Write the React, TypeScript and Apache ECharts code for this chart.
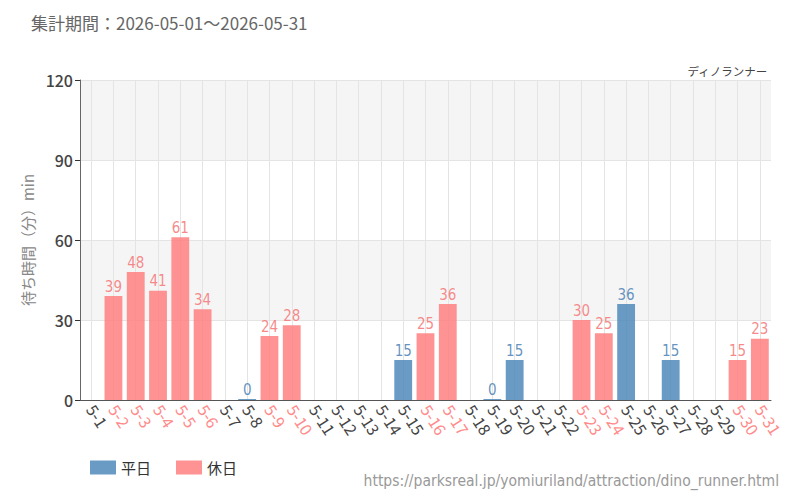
import React, { useEffect, useRef } from "react";
import * as echarts from "echarts";

// Wait-time samples for May 2026 (minutes); null = no record that day
const categories = [
  "5-1", "5-2", "5-3", "5-4", "5-5", "5-6", "5-7", "5-8", "5-9", "5-10",
  "5-11", "5-12", "5-13", "5-14", "5-15", "5-16", "5-17", "5-18", "5-19", "5-20",
  "5-21", "5-22", "5-23", "5-24", "5-25", "5-26", "5-27", "5-28", "5-29", "5-30", "5-31",
];

const weekdayValues: (number | null)[] = [
  null, null, null, null, null, null, null, 0, null, null,
  null, null, null, null, 15, null, null, null, 0, 15,
  null, null, null, null, 36, null, 15, null, null, null, null,
];

const holidayValues: (number | null)[] = [
  null, 39, 48, 41, 61, 34, null, null, 24, 28,
  null, null, null, null, null, 25, 36, null, null, null,
  null, null, 30, 25, null, null, null, null, null, 15, 23,
];

const yTicks = { min: 0, max: 120, interval: 30 };

const titleText = "集計期間：2026-05-01～2026-05-31";
const attractionName = "ディノランナー";
const sourceUrl = "https://parksreal.jp/yomiuriland/attraction/dino_runner.html";
const yAxisName = "待ち時間（分）min";
const seriesNames = ["平日", "休日"];

const BLUE = "#4f89bb";
const PINK = "#ff8080";
const BLUE_LABEL = "#4a80b4";
const PINK_LABEL = "#f57575";
const NARROW = '"DejaVu Sans Condensed", "Roboto Condensed", "Liberation Sans Narrow", "Noto Sans", sans-serif';
const BASE = '"Noto Sans CJK JP", "Noto Sans", sans-serif';

export default function App() {
  const ref = useRef<HTMLDivElement>(null);

  useEffect(() => {
    if (!ref.current) return;
    const chart = echarts.init(ref.current, undefined, { renderer: "svg" });

    const barLabel = (color: string) => ({
      show: true,
      position: "top" as const,
      distance: 2,
      color,
      fontFamily: NARROW,
      fontSize: 15,
    });

    chart.setOption({
      animation: false,
      textStyle: { fontFamily: BASE },
      title: [
        {
          text: titleText,
          left: 26,
          top: 9,
          textStyle: { fontSize: 17, fontWeight: "normal", color: "#666" },
        },
        {
          text: attractionName,
          right: 27,
          top: 60,
          textStyle: { fontSize: 11.5, fontWeight: "normal", color: "#444" },
        },
      ],
      graphic: [
        {
          type: "text",
          right: 21,
          top: 473,
          style: {
            text: sourceUrl,
            fill: "#999",
            fontSize: 15.5,
            fontFamily: NARROW,
          },
        },
      ],
      legend: {
        left: 85,
        top: 455,
        itemWidth: 26,
        itemHeight: 14,
        itemGap: 25,
        icon: "rect",
        textStyle: { fontSize: 15, color: "#333" },
        data: seriesNames,
      },
      grid: { left: 80, right: 29, top: 80, bottom: 100, containLabel: false },
      xAxis: {
        type: "category",
        data: categories,
        axisLine: { lineStyle: { color: "#555" } },
        axisTick: { alignWithLabel: true, lineStyle: { color: "#333" } },
        splitLine: { show: true, alignWithLabel: true, lineStyle: { color: "#e4e4e4" } },
        axisLabel: {
          interval: 0,
          rotate: -57,
          fontSize: 16,
          margin: 6,
          color: (_v: string, i: number) => (holidayValues[i] != null ? "#ff8a8a" : "#444"),
        },
      },
      yAxis: {
        type: "value",
        min: yTicks.min,
        max: yTicks.max,
        interval: yTicks.interval,
        name: yAxisName,
        nameLocation: "middle",
        nameGap: 37,
        nameTextStyle: { fontSize: 15, color: "#888" },
        axisLine: { show: true, lineStyle: { color: "#666" } },
        axisTick: { show: true, length: 5, lineStyle: { color: "#333" } },
        axisLabel: { fontSize: 16, color: "#444", fontWeight: 500, margin: 7 },
        splitLine: { show: true, lineStyle: { color: "#e4e4e4" } },
        splitArea: { show: true, areaStyle: { color: ["#ffffff", "#f5f5f5"] } },
      },
      series: [
        {
          name: seriesNames[0],
          type: "bar",
          stack: "day",
          barWidth: "80%",
          barMinHeight: 1,
          data: weekdayValues,
          itemStyle: { color: BLUE, opacity: 0.85 },
          label: barLabel(BLUE_LABEL),
        },
        {
          name: seriesNames[1],
          type: "bar",
          stack: "day",
          barWidth: "80%",
          data: holidayValues,
          itemStyle: { color: PINK, opacity: 0.85 },
          label: barLabel(PINK_LABEL),
        },
      ],
    });

    return () => chart.dispose();
  }, []);

  return <div ref={ref} style={{ width: 800, height: 500, position: "absolute", left: 0, top: 0 }} />;
}
